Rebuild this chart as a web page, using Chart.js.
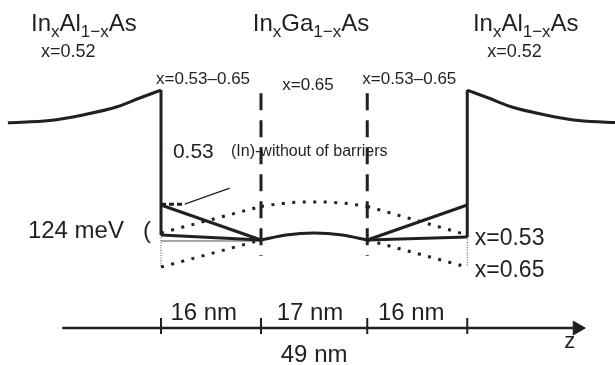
<!DOCTYPE html>
<html>
<head>
<meta charset="utf-8">
<script src="https://cdn.jsdelivr.net/npm/chart.js@4.4.0/dist/chart.umd.min.js"></script>
<style>
  html, body { margin: 0; padding: 0; background: #fff; }
</style>
</head>
<body>
<canvas id="band" width="615" height="365"></canvas>
<script>
// positions along growth direction z (nm), energies in meV (well bottom = 0)
const layerEdges = [0, 16, 33, 49];
const layerLabels = ["16 nm", "17 nm", "16 nm"];
const totalLabel = "49 nm";

// InAlAs barrier conduction band edge
const barrierLeftZ = [-24.5, -17.8, -12.5, -7, -3.4, 0];
const barrierRightZ = [73.5, 66.8, 61.5, 56, 52.4, 49];
const barrierE = [415, 423, 443, 472, 503, 531];

// walls
const wallTopE = 531;
const wallBottomE = [18, 11];

// graded layers (solid)
const gradeTopE = 124;
const gradeFlatE = [18, 11];

// InGaAs well (x=0.65) bottom
const wellZ = [16, 20, 24.5, 29, 33];
const wellE = [0, 18, 25, 18, 0];

// dotted: upper and lower edges
const upperZ = [0, 16, 20, 24.5, 29, 33, 49];
const upperE = [25, 119, 131, 135, 131, 119, 18];
const lowerEdgeE = -96;

// reference line of x=0.53 bottom and the pointer
const refLineE = -3.5;
const pointerZ = [3.8, 11];
const pointerE = [127, 184];

const ink = "#231f20";
const pxPerNm = 6.25;
const meVPerPx = 124 / 35;

function pts(zs, es) {
  return zs.map((z, i) => ({ x: z, y: es[i] }));
}

function line(zs, es, extra) {
  return Object.assign({
    data: pts(zs, es),
    showLine: true,
    borderColor: ink,
    borderWidth: 3,
    pointRadius: 0,
    fill: false,
    tension: 0
  }, extra || {});
}

const dotted = { borderWidth: 3, borderDash: [3, 7.5], borderCapStyle: "butt" };
const axisE = -312;

const datasets = [
  // barriers
  line(barrierLeftZ, barrierE, { tension: 0.4, cubicInterpolationMode: "monotone" }),
  line(barrierRightZ, barrierE, { tension: 0.4, cubicInterpolationMode: "monotone" }),
  // walls
  line([0, 0], [wallTopE, wallBottomE[0]]),
  line([49, 49], [wallTopE, wallBottomE[1]]),
  // graded layers
  line([0, 16], [gradeTopE, 0]),
  line([0, 16], [gradeFlatE[0], 0]),
  line([33, 49], [0, gradeTopE]),
  line([33, 49], [0, gradeFlatE[1]]),
  // well bottom
  line(wellZ, wellE, { tension: 0.4, cubicInterpolationMode: "monotone" }),
  // reference thin line
  line([0, 16], [refLineE, refLineE], { borderWidth: 1, borderColor: "#555" }),
  // dotted upper edge
  line(upperZ.slice(0, 2), upperE.slice(0, 2), dotted),
  line(upperZ.slice(1, 6), upperE.slice(1, 6), Object.assign({ tension: 0.4, cubicInterpolationMode: "monotone" }, dotted)),
  line(upperZ.slice(5), upperE.slice(5), dotted),
  // dotted lower edge
  line([0, 16], [lowerEdgeE, 0], dotted),
  line([33, 49], [0, lowerEdgeE], dotted),
  // thin dotted drops at walls
  line([0, 0], [wallBottomE[0], lowerEdgeE], { borderWidth: 1, borderDash: [1, 1.5], borderColor: "#444" }),
  line([49, 49], [wallBottomE[1], lowerEdgeE], { borderWidth: 1, borderDash: [1, 1.5], borderColor: "#444" }),
  // heterointerfaces
  line([16, 16], [520, -57], { borderDash: [17, 10] }),
  line([33, 33], [520, -57], { borderDash: [17, 10] }),
  // 0.53 marker and pointer
  line([0, pointerZ[0]], [pointerE[0], pointerE[0]], { borderDash: [5, 3] }),
  line(pointerZ, pointerE, { borderWidth: 1.3 }),
  // z axis
  line([-15.8, 66], [axisE, axisE], { borderWidth: 2.5 }),
  {
    data: [{ x: 66.6, y: axisE }],
    showLine: false,
    pointStyle: "triangle",
    rotation: 90,
    pointRadius: 8,
    backgroundColor: ink,
    borderColor: ink,
    borderWidth: 1
  }
].concat(layerEdges.map(z => line([z, z], [-276, -333], { borderWidth: 2 })));

// text labels: [parts, z, E, align, size]
const labels = [
  [[["In"], ["x", 1], ["Al"], ["1\u2212x", 1], ["As"]], -20.8, 740, "left", 24],
  [[["In"], ["x", 1], ["Ga"], ["1\u2212x", 1], ["As"]], 24, 740, "center", 24],
  [[["In"], ["x", 1], ["Al"], ["1\u2212x", 1], ["As"]], 49.9, 740, "left", 24],
  [[["x=0.52"]], -19.2, 648, "left", 18],
  [[["x=0.52"]], 52.2, 648, "left", 18],
  [[["x=0.53\u20130.65"]], -0.8, 553, "left", 17],
  [[["x=0.53\u20130.65"]], 32.2, 553, "left", 17],
  [[["x=0.65"]], 19.4, 533, "left", 17],
  [[["0.53"]], 1.9, 290, "left", 21],
  [[["(In)-without of barriers"]], 11.2, 297, "left", 16],
  [[["124 meV"]], -21.3, 7, "left", 24],
  [[["("]], -2.9, 7, "left", 24],
  [[["x=0.53"]], 50.2, -18, "left", 23],
  [[["x=0.65"]], 50.2, -131, "left", 23],
  [[[layerLabels[0]]], 1.5, -283, "left", 24],
  [[[layerLabels[1]]], 18.5, -283, "left", 24],
  [[[layerLabels[2]]], 34.7, -283, "left", 24],
  [[[totalLabel]], 24.5, -432, "center", 24],
  [[["z"]], 64.5, -383, "left", 22]
];

const textPlugin = {
  id: "bandText",
  afterDatasetsDraw(chart) {
    const ctx = chart.ctx;
    const xs = chart.scales.x, ys = chart.scales.y;
    ctx.save();
    ctx.fillStyle = ink;
    ctx.textBaseline = "alphabetic";
    ctx.textAlign = "left";
    labels.forEach(([parts, z, e, align, size]) => {
      const subSize = Math.round(size * 0.7);
      let w = 0;
      parts.forEach(p => {
        ctx.font = (p[1] ? subSize : size) + "px 'Liberation Sans', Arial, sans-serif";
        w += ctx.measureText(p[0]).width;
      });
      let x = xs.getPixelForValue(z);
      const y = ys.getPixelForValue(e);
      if (align === "center") x -= w / 2;
      parts.forEach(p => {
        ctx.font = (p[1] ? subSize : size) + "px 'Liberation Sans', Arial, sans-serif";
        ctx.fillText(p[0], x, y + (p[1] ? size * 0.25 : 0));
        x += ctx.measureText(p[0]).width;
      });
    });
    ctx.restore();
  }
};

new Chart(document.getElementById("band"), {
  type: "scatter",
  data: { datasets: datasets },
  options: {
    responsive: false,
    animation: false,
    layout: { padding: 0, autoPadding: false },
    plugins: { legend: { display: false }, tooltip: { enabled: false } },
    scales: {
      x: { type: "linear", display: false, min: -161 / pxPerNm, max: (615 - 161) / pxPerNm },
      y: { type: "linear", display: false, min: -125 * meVPerPx, max: 240 * meVPerPx }
    }
  },
  plugins: [textPlugin]
});
</script>
</body>
</html>
